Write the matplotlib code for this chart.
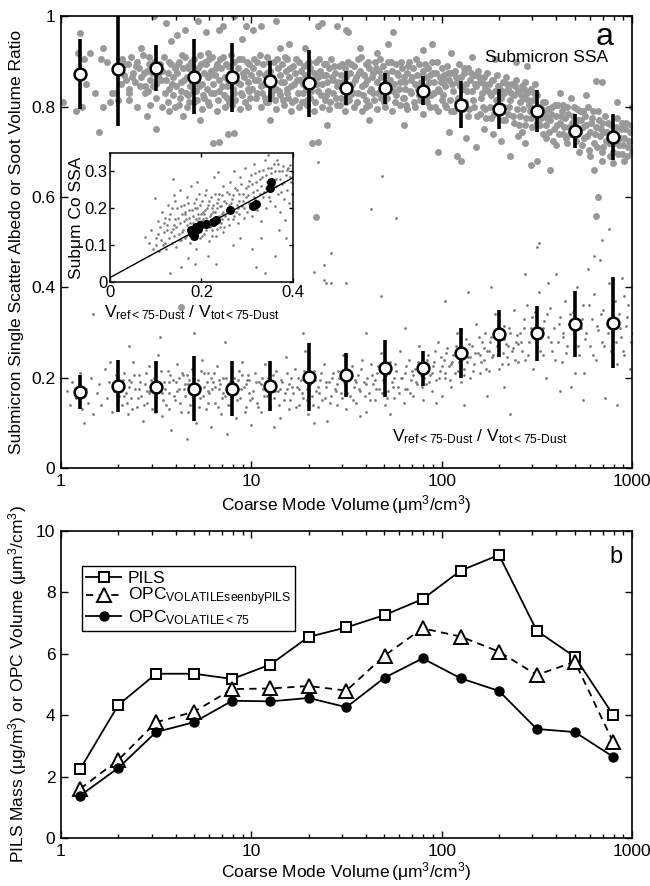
import numpy as np
import matplotlib
matplotlib.use('Agg')
import matplotlib.pyplot as plt
from matplotlib.ticker import FixedLocator, FixedFormatter, LogLocator, NullFormatter

plt.rcParams['font.family'] = ['Liberation Sans', 'DejaVu Sans']
plt.rcParams['mathtext.fontset'] = 'custom'
plt.rcParams['mathtext.rm'] = 'Liberation Sans'
plt.rcParams['mathtext.it'] = 'Liberation Sans:italic'
plt.rcParams['mathtext.bf'] = 'Liberation Sans:bold'
plt.rcParams['font.size'] = 12.5

# bin centres of coarse mode volume (um3/cm3)
bin_vol = [1.26, 2.0, 3.16, 5.0, 7.94, 12.6, 20.0, 31.6, 50.1, 79.4, 126, 200, 316, 501, 794]

# panel a: binned submicron SSA and soot volume ratio (mean, std)
ssa_mean = [0.873, 0.884, 0.886, 0.867, 0.865, 0.856, 0.852, 0.842, 0.841, 0.836, 0.805, 0.795, 0.791, 0.746, 0.734]
ssa_err = [0.078, 0.126, 0.051, 0.083, 0.077, 0.046, 0.074, 0.037, 0.034, 0.033, 0.051, 0.045, 0.046, 0.037, 0.051]
ratio_mean = [0.169, 0.182, 0.180, 0.176, 0.176, 0.182, 0.201, 0.206, 0.221, 0.221, 0.254, 0.297, 0.298, 0.319, 0.322]
ratio_err = [0.038, 0.057, 0.058, 0.072, 0.061, 0.056, 0.075, 0.049, 0.063, 0.039, 0.055, 0.052, 0.061, 0.074, 0.100]

# individual SSA samples: (log10 coarse volume, SSA)
ssa_pts = [
    (0.01, .811), (0.10, .963), (0.09, .92), (0.12, .905), (0.08, .79), (0.11, .80), (0.13, .85), (0.18, .83),
    (0.20, .745), (0.21, .905), (0.22, .93), (0.22, .80), (0.24, .90), (0.27, .83), (0.29, .83), (0.30, .815),
    (0.15, .92), (0.26, .81),
    (0.31, .885), (0.32, .905), (0.33, .87), (0.34, .86), (0.35, .895), (0.36, .84), (0.37, .91), (0.38, .875),
    (0.39, .855), (0.40, .90), (0.41, .885), (0.42, .865), (0.43, .915), (0.44, .845), (0.45, .88), (0.46, .895),
    (0.47, .86), (0.48, .875), (0.49, .90), (0.50, .85), (0.51, .87), (0.52, .895), (0.53, .88), (0.54, .91),
    (0.55, .86), (0.56, .875), (0.57, .84), (0.58, .895), (0.59, .865), (0.60, .885),
    (0.315, .85), (0.335, .895), (0.355, .83), (0.375, .865), (0.395, .89), (0.415, .845), (0.435, .875),
    (0.455, .835), (0.465, .91), (0.485, .845), (0.505, .885), (0.525, .86), (0.545, .83), (0.565, .90),
    (0.585, .85),
    (0.36, .815), (0.40, .80), (0.44, .83), (0.47, .805), (0.50, .82), (0.53, .80), (0.56, .81), (0.59, .825),
    (0.45, .78), (0.57, .79), (0.49, 1.0), (0.55, .985), (0.61, .96), (0.50, .75), (0.60, .80), (0.58, .945),
    (0.42, .93),
    (0.61, .875), (0.62, .90), (0.63, .855), (0.64, .885), (0.65, .91), (0.66, .865), (0.67, .89), (0.68, .845),
    (0.69, .875), (0.70, .905), (0.71, .86), (0.72, .885), (0.73, .915), (0.74, .85), (0.75, .875), (0.76, .895),
    (0.77, .865), (0.78, .905), (0.79, .88), (0.80, .85), (0.81, .87), (0.82, .895), (0.83, .86), (0.84, .885),
    (0.85, .91), (0.86, .865), (0.87, .845), (0.88, .89), (0.89, .875), (0.90, .855), (0.91, .90), (0.92, .87),
    (0.93, .885), (0.94, .85), (0.95, .905), (0.96, .865), (0.97, .88), (0.98, .84), (0.99, .895), (1.00, .87),
    (0.605, .845), (0.615, .895), (0.625, .82), (0.635, .915), (0.645, .86), (0.655, .83), (0.665, .885),
    (0.675, .81), (0.685, .90), (0.695, .835), (0.705, .87), (0.715, .815), (0.725, .845), (0.735, .895),
    (0.745, .825), (0.755, .90), (0.765, .84), (0.775, .81), (0.785, .87), (0.795, .91), (0.805, .83),
    (0.815, .885), (0.825, .815), (0.835, .905), (0.845, .845), (0.855, .825), (0.865, .895), (0.875, .86),
    (0.885, .81), (0.895, .915), (0.905, .84), (0.915, .815), (0.925, .855), (0.935, .905), (0.945, .83),
    (0.955, .875), (0.965, .81), (0.975, .90), (0.985, .855), (0.995, .82),
    (0.63, .835), (0.67, .825), (0.71, .835), (0.75, .82), (0.79, .83), (0.83, .835), (0.87, .82), (0.91, .83),
    (0.95, .825), (0.99, .835), (0.62, .805), (0.66, .80), (0.70, .81), (0.74, .795), (0.78, .805), (0.82, .79),
    (0.86, .80), (0.90, .805), (0.94, .795), (0.98, .80),
    (0.65, .97), (0.72, .99), (0.76, .965), (0.83, .97), (0.85, .98), (0.91, 1.0), (0.95, .95), (0.97, .98),
    (0.77, .92), (0.80, .72), (0.83, .723), (0.88, .74), (0.91, .742), (0.64, .78), (0.73, .77), (0.63, .357),
    (1.01, .885), (1.02, .86), (1.03, .90), (1.04, .875), (1.05, .845), (1.06, .895), (1.07, .87), (1.08, .91),
    (1.09, .855), (1.10, .88), (1.11, .865), (1.12, .90), (1.13, .84), (1.14, .885), (1.15, .87), (1.16, .895),
    (1.17, .855), (1.18, .88), (1.19, .905), (1.20, .865), (1.21, .845), (1.22, .89), (1.23, .875), (1.24, .86),
    (1.25, .90), (1.26, .88), (1.27, .85), (1.28, .87), (1.29, .895), (1.30, .86), (1.31, .885), (1.32, .845),
    (1.33, .875), (1.34, .90), (1.35, .865), (1.36, .88), (1.37, .85), (1.38, .895), (1.39, .87), (1.40, .855),
    (1.41, .885), (1.42, .905), (1.43, .86), (1.44, .875), (1.45, .845), (1.46, .89), (1.47, .87), (1.48, .855),
    (1.49, .885), (1.50, .865),
    (1.005, .84), (1.015, .905), (1.025, .82), (1.035, .86), (1.045, .915), (1.055, .83), (1.065, .85),
    (1.075, .81), (1.085, .875), (1.095, .90), (1.105, .825), (1.115, .845), (1.125, .815), (1.135, .905),
    (1.145, .835), (1.155, .855), (1.165, .815), (1.175, .91), (1.185, .84), (1.195, .82), (1.205, .885),
    (1.215, .81), (1.225, .85), (1.235, .905), (1.245, .83), (1.255, .86), (1.265, .81), (1.275, .89),
    (1.285, .84), (1.295, .815), (1.305, .90), (1.315, .835), (1.325, .86), (1.335, .81), (1.345, .85),
    (1.355, .905), (1.365, .825), (1.375, .87), (1.385, .815), (1.395, .895), (1.405, .835), (1.415, .81),
    (1.425, .865), (1.435, .89), (1.445, .82), (1.455, .855), (1.465, .805), (1.475, .895), (1.485, .835),
    (1.495, .81),
    (1.03, .83), (1.07, .82), (1.11, .835), (1.15, .825), (1.19, .83), (1.23, .815), (1.27, .83), (1.31, .82),
    (1.35, .835), (1.39, .825), (1.43, .83), (1.47, .82), (1.05, .80), (1.09, .81), (1.13, .795), (1.17, .805),
    (1.21, .79), (1.25, .80), (1.29, .805), (1.33, .79), (1.37, .80), (1.41, .795), (1.45, .805), (1.49, .79),
    (1.05, .98), (1.01, .97), (1.13, .99), (1.15, .93), (1.32, .72), (1.35, .723), (1.34, .556), (1.37, .985),
    (1.35, .98), (1.45, .98), (1.50, .97), (1.20, .94), (1.28, .93), (1.10, .77), (1.40, .76),
    (1.51, .90), (1.52, .875), (1.53, .85), (1.54, .89), (1.55, .865), (1.56, .905), (1.57, .88), (1.58, .845),
    (1.59, .87), (1.60, .895), (1.61, .86), (1.62, .885), (1.63, .84), (1.64, .875), (1.65, .90), (1.66, .855),
    (1.67, .88), (1.68, .865), (1.69, .89), (1.70, .845), (1.71, .875), (1.72, .90), (1.73, .86), (1.74, .88),
    (1.75, .85), (1.76, .895), (1.77, .87), (1.78, .855), (1.79, .885), (1.80, .865), (1.81, .84), (1.82, .875),
    (1.83, .90), (1.84, .86), (1.85, .885), (1.86, .85), (1.87, .87), (1.88, .895), (1.89, .855), (1.90, .88),
    (1.91, .865), (1.92, .845), (1.93, .885), (1.94, .87), (1.95, .90), (1.96, .855), (1.97, .875), (1.98, .84),
    (1.99, .865), (2.00, .885),
    (1.505, .84), (1.515, .815), (1.525, .895), (1.535, .83), (1.545, .86), (1.555, .81), (1.565, .875),
    (1.575, .91), (1.585, .825), (1.595, .85), (1.605, .80), (1.615, .90), (1.625, .835), (1.635, .865),
    (1.645, .815), (1.655, .885), (1.665, .83), (1.675, .905), (1.685, .845), (1.695, .81), (1.705, .87),
    (1.715, .82), (1.725, .855), (1.735, .90), (1.745, .835), (1.755, .81), (1.765, .875), (1.775, .84),
    (1.785, .90), (1.795, .82), (1.805, .855), (1.815, .805), (1.825, .89), (1.835, .835), (1.845, .865),
    (1.855, .81), (1.865, .905), (1.875, .84), (1.885, .815), (1.895, .87), (1.905, .83), (1.915, .895),
    (1.925, .81), (1.935, .855), (1.945, .825), (1.955, .875), (1.965, .80), (1.975, .90), (1.985, .835),
    (1.995, .855),
    (1.52, .825), (1.56, .83), (1.60, .815), (1.64, .83), (1.68, .82), (1.72, .835), (1.76, .825), (1.80, .82),
    (1.84, .83), (1.88, .825), (1.92, .82), (1.96, .83), (2.00, .815), (1.54, .80), (1.58, .79), (1.62, .805),
    (1.66, .795), (1.70, .80), (1.74, .79), (1.78, .805), (1.82, .795), (1.86, .80), (1.90, .785), (1.94, .80),
    (1.98, .79), (1.51, .966), (1.66, .92), (1.72, .94), (1.745, .966), (1.95, .94), (1.62, .77), (1.80, .76),
    (1.90, .925), (1.57, .93),
    (2.01, .87), (2.02, .845), (2.03, .89), (2.04, .86), (2.05, .875), (2.06, .835), (2.07, .88), (2.08, .855),
    (2.09, .895), (2.10, .865), (2.11, .84), (2.12, .875), (2.13, .85), (2.14, .885), (2.15, .86), (2.16, .835),
    (2.17, .87), (2.18, .845), (2.19, .88), (2.20, .855), (2.21, .83), (2.22, .865), (2.23, .84), (2.24, .875),
    (2.25, .85), (2.26, .825), (2.27, .86), (2.28, .835), (2.29, .87), (2.30, .845), (2.31, .82), (2.32, .855),
    (2.33, .83), (2.34, .865), (2.35, .84), (2.36, .815), (2.37, .85), (2.38, .825), (2.39, .86), (2.40, .835),
    (2.41, .81), (2.42, .845), (2.43, .82), (2.44, .855), (2.45, .83), (2.46, .805), (2.47, .84), (2.48, .815),
    (2.49, .85), (2.50, .825),
    (2.005, .825), (2.015, .86), (2.025, .80), (2.035, .875), (2.045, .815), (2.055, .85), (2.065, .79),
    (2.075, .865), (2.085, .82), (2.095, .845), (2.105, .805), (2.115, .885), (2.125, .81), (2.135, .835),
    (2.145, .795), (2.155, .875), (2.165, .815), (2.175, .85), (2.185, .78), (2.195, .865), (2.205, .82),
    (2.215, .80), (2.225, .85), (2.235, .775), (2.245, .835), (2.255, .80), (2.265, .86), (2.275, .785),
    (2.285, .815), (2.295, .845), (2.305, .79), (2.315, .835), (2.325, .80), (2.335, .77), (2.345, .85),
    (2.355, .80), (2.365, .83), (2.375, .78), (2.385, .845), (2.395, .795), (2.405, .76), (2.415, .825),
    (2.425, .795), (2.435, .84), (2.445, .775), (2.455, .815), (2.465, .79), (2.475, .755), (2.485, .83),
    (2.495, .79),
    (2.02, .805), (2.05, .79), (2.08, .81), (2.11, .795), (2.14, .78), (2.17, .80), (2.20, .785), (2.23, .795),
    (2.26, .775), (2.29, .79), (2.32, .77), (2.35, .785), (2.38, .765), (2.41, .78), (2.44, .76), (2.47, .775),
    (2.50, .765), (1.98, .70), (2.04, .745), (2.08, .69), (2.10, .68), (2.13, .73), (2.18, .71), (2.22, .75),
    (2.27, .74), (2.31, .725), (2.36, .69), (2.40, .735), (2.44, .72), (2.47, .67), (2.50, .68), (2.42, .745),
    (2.05, .92), (2.16, .91), (2.28, .905), (2.39, .90), (2.45, .89),
    (2.51, .80), (2.52, .775), (2.53, .81), (2.54, .785), (2.55, .76), (2.56, .795), (2.57, .77), (2.58, .80),
    (2.59, .75), (2.60, .78), (2.61, .805), (2.62, .765), (2.63, .79), (2.64, .74), (2.65, .775), (2.66, .80),
    (2.67, .755), (2.68, .82), (2.69, .78), (2.70, .765), (2.71, .795), (2.72, .745), (2.73, .77), (2.74, .79),
    (2.75, .73), (2.76, .76), (2.77, .80), (2.78, .745), (2.79, .775), (2.80, .72), (2.81, .755), (2.82, .79),
    (2.83, .735), (2.84, .765), (2.85, .71), (2.86, .78), (2.87, .745), (2.88, .72), (2.89, .76), (2.90, .70),
    (2.91, .735), (2.92, .775), (2.93, .715), (2.94, .75), (2.95, .695), (2.96, .73), (2.97, .765), (2.98, .71),
    (2.99, .745), (3.00, .70),
    (2.505, .785), (2.515, .76), (2.525, .795), (2.535, .74), (2.545, .81), (2.555, .775), (2.565, .745),
    (2.575, .785), (2.585, .725), (2.595, .805), (2.605, .76), (2.615, .74), (2.625, .78), (2.635, .805),
    (2.645, .755), (2.655, .73), (2.665, .785), (2.675, .74), (2.685, .765), (2.695, .80), (2.705, .725),
    (2.715, .77), (2.725, .79), (2.735, .715), (2.745, .755), (2.755, .78), (2.765, .735), (2.775, .705),
    (2.785, .765), (2.795, .79), (2.805, .74), (2.815, .71), (2.825, .77), (2.835, .75), (2.845, .70),
    (2.855, .745), (2.865, .725), (2.875, .765), (2.885, .69), (2.895, .74), (2.905, .72), (2.915, .755),
    (2.925, .695), (2.935, .73), (2.945, .765), (2.955, .715), (2.965, .75), (2.975, .69), (2.985, .725),
    (2.995, .76),
    (2.55, .73), (2.60, .715), (2.66, .72), (2.72, .70), (2.78, .69), (2.84, .68), (2.90, .675), (2.96, .68),
    (2.57, .66), (2.80, .66), (2.82, .60), (2.81, .558), (2.84, .855), (2.81, .856), (2.62, .83), (2.76, .825),
    (2.92, .81), (3.00, .80),
]

# individual soot volume ratio samples: (log10 coarse volume, ratio)
ratio_pts = [
    (0.03, .17), (0.05, .14), (0.06, .19), (0.08, .155), (0.10, .21), (0.11, .13), (0.13, .175), (0.14, .145),
    (0.16, .20), (0.17, .12), (0.19, .165), (0.20, .185), (0.21, .14), (0.23, .22), (0.24, .155), (0.25, .19),
    (0.27, .125), (0.28, .17), (0.29, .205), (0.30, .15), (0.17, .34), (0.12, .10), (0.26, .235),
    (0.31, .18), (0.32, .14), (0.33, .21), (0.34, .165), (0.35, .12), (0.36, .195), (0.37, .155), (0.38, .235),
    (0.39, .175), (0.40, .135), (0.41, .205), (0.42, .16), (0.43, .105), (0.44, .185), (0.45, .145), (0.46, .225),
    (0.47, .17), (0.48, .13), (0.49, .20), (0.50, .155), (0.51, .25), (0.52, .18), (0.53, .115), (0.54, .19),
    (0.55, .14), (0.56, .215), (0.57, .165), (0.58, .085), (0.59, .195), (0.60, .15), (0.61, .23), (0.62, .175),
    (0.63, .125), (0.64, .205), (0.65, .16), (0.66, .065), (0.67, .185), (0.68, .14), (0.69, .22), (0.70, .17),
    (0.71, .10), (0.72, .195), (0.73, .155), (0.74, .24), (0.75, .18), (0.76, .13), (0.77, .21), (0.78, .165),
    (0.79, .09), (0.80, .19), (0.81, .145), (0.82, .225), (0.83, .175), (0.84, .12), (0.85, .20), (0.86, .16),
    (0.87, .075), (0.88, .185), (0.89, .14), (0.90, .215), (0.91, .17), (0.92, .11), (0.93, .195), (0.94, .155),
    (0.95, .235), (0.96, .18), (0.97, .135), (0.98, .205), (0.99, .165), (1.00, .095),
    (0.305, .16), (0.325, .195), (0.345, .145), (0.355, .18), (0.375, .13), (0.385, .205), (0.405, .155),
    (0.415, .19), (0.435, .14), (0.445, .21), (0.465, .165), (0.475, .195), (0.495, .125), (0.505, .185),
    (0.525, .215), (0.535, .15), (0.545, .175), (0.565, .13), (0.575, .205), (0.595, .16), (0.605, .19),
    (0.625, .145), (0.635, .21), (0.645, .175), (0.665, .125), (0.675, .195), (0.695, .15), (0.705, .185),
    (0.725, .135), (0.735, .215), (0.745, .16), (0.765, .19), (0.775, .145), (0.795, .175), (0.805, .21),
    (0.825, .135), (0.835, .185), (0.845, .155), (0.865, .20), (0.875, .14), (0.895, .17), (0.905, .19),
    (0.925, .15), (0.935, .215), (0.945, .175), (0.965, .125), (0.975, .195), (0.995, .15),
    (0.33, .16), (0.37, .19), (0.41, .175), (0.45, .17), (0.49, .185), (0.53, .165), (0.57, .19), (0.61, .17),
    (0.65, .185), (0.69, .165), (0.73, .18), (0.77, .17), (0.81, .18), (0.85, .165), (0.89, .19), (0.93, .175),
    (0.97, .185), (0.36, .27), (0.52, .29), (0.70, .30), (0.86, .28), (0.62, .20), (0.66, .205), (0.75, .21),
    (0.79, .20), (0.83, .195), (0.91, .20), (0.95, .205), (0.99, .195),
    (1.01, .17), (1.02, .21), (1.03, .145), (1.04, .19), (1.05, .125), (1.06, .175), (1.07, .23), (1.08, .16),
    (1.09, .20), (1.10, .135), (1.11, .18), (1.12, .155), (1.13, .215), (1.14, .17), (1.15, .11), (1.16, .19),
    (1.17, .15), (1.18, .245), (1.19, .175), (1.20, .13), (1.21, .20), (1.22, .165), (1.23, .22), (1.24, .18),
    (1.25, .14), (1.26, .195), (1.27, .155), (1.28, .26), (1.29, .175), (1.30, .12), (1.31, .185), (1.32, .16),
    (1.33, .215), (1.34, .17), (1.35, .135), (1.36, .195), (1.37, .15), (1.38, .23), (1.39, .18), (1.40, .105),
    (1.41, .19), (1.42, .16), (1.43, .21), (1.44, .175), (1.45, .14), (1.46, .20), (1.47, .165), (1.48, .25),
    (1.49, .185), (1.50, .13), (1.51, .195), (1.52, .16), (1.53, .225), (1.54, .18), (1.55, .145), (1.56, .205),
    (1.57, .17), (1.58, .24), (1.59, .19), (1.60, .125), (1.61, .20), (1.62, .165), (1.63, .23), (1.64, .185),
    (1.65, .15), (1.66, .21), (1.67, .175), (1.68, .255), (1.69, .195), (1.70, .14), (1.71, .205), (1.72, .17),
    (1.73, .235), (1.74, .19), (1.75, .155), (1.76, .215), (1.77, .18), (1.78, .26), (1.79, .20), (1.80, .145),
    (1.81, .21), (1.82, .175), (1.83, .24), (1.84, .195), (1.85, .16), (1.86, .22), (1.87, .185), (1.88, .27),
    (1.89, .205), (1.90, .15),
    (1.005, .155), (1.025, .19), (1.035, .135), (1.055, .20), (1.065, .16), (1.085, .185), (1.095, .145),
    (1.115, .205), (1.125, .17), (1.145, .14), (1.155, .195), (1.175, .165), (1.185, .21), (1.205, .15),
    (1.215, .18), (1.235, .135), (1.245, .20), (1.265, .165), (1.275, .215), (1.295, .15), (1.305, .185),
    (1.325, .14), (1.335, .195), (1.355, .165), (1.365, .21), (1.385, .155), (1.395, .19), (1.415, .145),
    (1.425, .20), (1.445, .17), (1.455, .215), (1.475, .155), (1.485, .19), (1.505, .165), (1.515, .21),
    (1.535, .15), (1.545, .195), (1.565, .175), (1.575, .22), (1.595, .16), (1.605, .185), (1.625, .15),
    (1.635, .205), (1.655, .175), (1.665, .225), (1.685, .165), (1.695, .19), (1.715, .155), (1.725, .21),
    (1.745, .18), (1.755, .23), (1.775, .165), (1.785, .20), (1.805, .175), (1.815, .225), (1.835, .165),
    (1.845, .215), (1.865, .19), (1.875, .235), (1.895, .18),
    (1.05, .185), (1.10, .19), (1.15, .175), (1.20, .185), (1.25, .175), (1.30, .19), (1.35, .18), (1.45, .185),
    (1.55, .19), (1.65, .195), (1.75, .20), (1.85, .205), (1.12, .09), (1.33, .10), (1.57, .115), (1.73, .12),
    (1.42, .41), (1.38, .416), (1.50, .41), (1.68, .38), (1.33, .435), (1.39, .41), (1.42, .476), (1.63, .573),
    (1.685, .647), (1.76, .554), (1.35, .678), (1.38, .45), (1.27, .30), (1.60, .30), (1.81, .31),
    (1.91, .22), (1.92, .185), (1.93, .25), (1.94, .205), (1.95, .17), (1.96, .235), (1.97, .195), (1.98, .28),
    (1.99, .215), (2.00, .16), (2.01, .24), (2.02, .20), (2.03, .265), (2.04, .225), (2.05, .18), (2.06, .25),
    (2.07, .21), (2.08, .30), (2.09, .235), (2.10, .19), (2.11, .26), (2.12, .22), (2.13, .285), (2.14, .245),
    (2.15, .20), (2.16, .27), (2.17, .23), (2.18, .32), (2.19, .255), (2.20, .21), (2.21, .28), (2.22, .24),
    (2.23, .30), (2.24, .26), (2.25, .215), (2.26, .29), (2.27, .25), (2.28, .34), (2.29, .27), (2.30, .22),
    (2.31, .295), (2.32, .255), (2.33, .315), (2.34, .275), (2.35, .23), (2.36, .30), (2.37, .26), (2.38, .35),
    (2.39, .28), (2.40, .235),
    (1.905, .20), (1.925, .24), (1.935, .19), (1.955, .225), (1.965, .26), (1.985, .20), (1.995, .245),
    (2.015, .21), (2.025, .255), (2.045, .195), (2.055, .235), (2.075, .27), (2.085, .215), (2.105, .25),
    (2.115, .205), (2.135, .235), (2.145, .275), (2.165, .215), (2.175, .255), (2.195, .29), (2.205, .235),
    (2.225, .265), (2.235, .22), (2.255, .28), (2.265, .245), (2.285, .305), (2.295, .25), (2.315, .23),
    (2.325, .285), (2.345, .245), (2.355, .31), (2.375, .265), (2.385, .24), (2.395, .295),
    (1.95, .21), (2.00, .225), (2.05, .23), (2.10, .24), (2.15, .245), (2.20, .25), (2.25, .26), (2.30, .265),
    (2.35, .27), (2.40, .275), (2.02, .37), (2.14, .39), (2.26, .40), (2.36, .12), (2.12, .14), (2.24, .16),
    (1.97, .145), (2.33, .18),
    (2.41, .30), (2.42, .26), (2.43, .33), (2.44, .24), (2.45, .36), (2.46, .28), (2.47, .31), (2.48, .22),
    (2.49, .345), (2.50, .27), (2.51, .39), (2.52, .30), (2.53, .25), (2.54, .325), (2.55, .20), (2.56, .29),
    (2.57, .355), (2.58, .26), (2.59, .31), (2.60, .43), (2.61, .28), (2.62, .335), (2.63, .235), (2.64, .30),
    (2.65, .37), (2.66, .27), (2.67, .32), (2.68, .18), (2.69, .345), (2.70, .29), (2.71, .40), (2.72, .25),
    (2.73, .31), (2.74, .36), (2.75, .21), (2.76, .30), (2.77, .44), (2.78, .27), (2.79, .33), (2.80, .385),
    (2.81, .24), (2.82, .305), (2.83, .46), (2.84, .28), (2.85, .35), (2.86, .155), (2.87, .32), (2.88, .41),
    (2.89, .26), (2.90, .30), (2.91, .37), (2.92, .23), (2.93, .34), (2.94, .29), (2.95, .42), (2.96, .25),
    (2.97, .315), (2.98, .36), (2.99, .22), (3.00, .30),
    (2.415, .28), (2.435, .31), (2.455, .25), (2.475, .335), (2.495, .29), (2.515, .26), (2.535, .31),
    (2.555, .34), (2.575, .28), (2.595, .24), (2.615, .32), (2.635, .29), (2.655, .255), (2.675, .34),
    (2.695, .30), (2.715, .27), (2.735, .33), (2.755, .285), (2.775, .36), (2.795, .25), (2.815, .315),
    (2.835, .34), (2.855, .27), (2.875, .30), (2.895, .345), (2.915, .28), (2.935, .31), (2.955, .26),
    (2.975, .335), (2.995, .28),
    (2.50, .49), (2.51, .498), (2.84, .506), (2.88, .529), (2.44, .43), (2.62, .17), (2.74, .15), (2.92, .14),
    (2.56, .41), (2.80, .47), (2.70, .21), (2.96, .38),
]

# inset: soot volume ratio vs submicron coarse SSA, (ratio, SSA)
inset_pts = [
    (0.077, .123), (0.085, .105), (0.09, .14), (0.095, .09), (0.098, .227), (0.10, .12), (0.105, .165),
    (0.108, .085), (0.11, .15), (0.113, .19), (0.115, .10), (0.118, .135), (0.12, .175),
    (0.10, .10), (0.106, .13), (0.112, .115), (0.117, .16), (0.121, .105), (0.124, .14), (0.128, .17),
    (0.133, .135), (0.136, .20), (0.139, .125), (0.141, .155), (0.143, .22),
    (0.122, .09), (0.125, .155), (0.127, .21), (0.13, .12), (0.132, .185), (0.135, .105), (0.137, .28),
    (0.138, .145), (0.14, .235), (0.142, .17), (0.145, .095), (0.147, .20), (0.15, .13), (0.152, .16),
    (0.154, .25), (0.156, .115), (0.158, .185), (0.16, .14), (0.131, .024), (0.156, .041),
    (0.145, .15), (0.148, .175), (0.151, .115), (0.155, .205), (0.158, .135), (0.161, .165), (0.163, .19),
    (0.167, .125), (0.169, .155), (0.171, .215), (0.173, .175), (0.177, .14), (0.179, .195), (0.181, .16),
    (0.183, .12), (0.185, .20), (0.187, .17), (0.189, .225), (0.191, .135), (0.193, .185), (0.195, .155),
    (0.197, .21), (0.199, .165),
    (0.162, .21), (0.164, .12), (0.166, .17), (0.168, .23), (0.17, .145), (0.172, .195), (0.174, .105),
    (0.176, .16), (0.178, .26), (0.18, .13), (0.182, .18), (0.184, .215), (0.186, .15), (0.188, .09),
    (0.19, .20), (0.192, .165), (0.194, .24), (0.196, .12), (0.198, .185), (0.20, .145), (0.17, .065),
    (0.185, .05), (0.165, .185), (0.175, .135), (0.195, .175), (0.19, .27),
    (0.201, .125), (0.203, .19), (0.205, .155), (0.207, .235), (0.209, .175), (0.211, .14), (0.213, .20),
    (0.215, .165), (0.217, .22), (0.219, .15), (0.221, .185), (0.223, .125), (0.225, .21), (0.227, .17),
    (0.229, .24), (0.231, .16), (0.233, .20), (0.235, .145), (0.237, .225), (0.239, .18), (0.241, .205),
    (0.243, .16), (0.245, .235), (0.247, .19), (0.249, .15),
    (0.202, .22), (0.204, .17), (0.206, .13), (0.208, .195), (0.21, .25), (0.212, .155), (0.214, .21),
    (0.216, .11), (0.218, .18), (0.22, .23), (0.222, .14), (0.224, .20), (0.226, .165), (0.228, .285),
    (0.23, .19), (0.232, .125), (0.234, .215), (0.236, .175), (0.237, .299), (0.238, .24), (0.24, .15),
    (0.242, .205), (0.244, .185), (0.246, .26), (0.248, .135), (0.25, .22), (0.232, .049), (0.215, .07),
    (0.205, .185), (0.225, .19), (0.245, .17),
    (0.252, .18), (0.255, .245), (0.258, .20), (0.26, .155), (0.262, .27), (0.265, .215), (0.268, .17),
    (0.27, .235), (0.272, .30), (0.275, .19), (0.278, .25), (0.28, .16), (0.282, .22), (0.285, .285),
    (0.288, .205), (0.29, .24), (0.292, .175), (0.295, .31), (0.298, .23), (0.30, .19), (0.27, .10),
    (0.285, .12), (0.26, .21), (0.28, .20),
    (0.253, .215), (0.257, .17), (0.261, .24), (0.263, .195), (0.267, .225), (0.271, .18), (0.273, .255),
    (0.277, .21), (0.281, .24), (0.283, .185), (0.287, .265), (0.291, .22), (0.293, .20), (0.297, .255),
    (0.302, .26), (0.305, .215), (0.308, .29), (0.31, .18), (0.312, .245), (0.315, .32), (0.318, .225),
    (0.32, .27), (0.322, .195), (0.325, .30), (0.328, .24), (0.33, .165), (0.332, .285), (0.335, .23),
    (0.338, .33), (0.34, .255), (0.342, .20), (0.345, .31), (0.346, .345), (0.348, .27), (0.35, .22),
    (0.339, .024), (0.32, .04), (0.31, .09), (0.33, .12),
    (0.301, .235), (0.304, .275), (0.307, .20), (0.311, .265), (0.314, .23), (0.317, .295), (0.321, .25),
    (0.324, .215), (0.327, .28), (0.331, .26), (0.334, .305), (0.337, .245), (0.341, .29), (0.344, .27),
    (0.347, .23),
    (0.352, .295), (0.355, .25), (0.358, .32), (0.36, .205), (0.362, .28), (0.365, .33), (0.368, .24),
    (0.37, .30), (0.372, .19), (0.375, .265), (0.378, .315), (0.38, .225), (0.383, .168), (0.385, .29),
    (0.388, .25), (0.39, .31), (0.392, .215), (0.394, .317), (0.396, .27), (0.398, .24), (0.37, .14),
    (0.385, .12), (0.36, .07),
    (0.353, .31), (0.357, .275), (0.361, .30), (0.364, .26), (0.367, .32), (0.371, .28), (0.374, .245),
    (0.377, .30), (0.381, .27), (0.387, .305), (0.393, .285), (0.397, .30),
]
inset_bin_ratio = [0.178, 0.180, 0.184, 0.186, 0.189, 0.192, 0.197, 0.210, 0.226, 0.231, 0.262, 0.312, 0.320, 0.350, 0.353]
inset_bin_ssa = [0.140, 0.133, 0.126, 0.138, 0.150, 0.145, 0.155, 0.157, 0.164, 0.168, 0.195, 0.207, 0.211, 0.254, 0.270]
fit_x = [0.0, 0.4]
fit_y = [0.012, 0.283]

# panel b: PILS mass and OPC volatile volume per bin
pils = [2.24, 4.33, 5.35, 5.35, 5.18, 5.65, 6.55, 6.86, 7.26, 7.78, 8.71, 9.22, 6.75, 5.90, 4.02]
opc_seen = [1.60, 2.54, 3.77, 4.11, 4.85, 4.87, 4.95, 4.80, 5.94, 6.83, 6.56, 6.07, 5.31, 5.74, 3.14]
opc_vol75 = [1.38, 2.28, 3.45, 3.77, 4.47, 4.45, 4.56, 4.26, 5.22, 5.85, 5.20, 4.79, 3.55, 3.45, 2.65]

vol_label = r'Coarse Mode Volume$\,$(μm$^3$/cm$^3$)'
ratio_label = r'V$_{\mathrm{ref<75‐Dust}}$ / V$_{\mathrm{tot<75‐Dust}}$'


def matlab_axes(ax, lw=1.2):
    for s in ax.spines.values():
        s.set_linewidth(lw)
    ax.tick_params(which='both', direction='in', top=True, right=True, width=1.0)
    ax.tick_params(which='major', length=5, pad=4)
    ax.tick_params(which='minor', length=3)


def log_x(ax):
    ax.set_xscale('log')
    ax.set_xlim(1, 1000)
    ax.xaxis.set_major_locator(FixedLocator([1, 10, 100, 1000]))
    ax.xaxis.set_major_formatter(FixedFormatter(['1', '10', '100', '1000']))
    ax.xaxis.set_minor_locator(LogLocator(base=10, subs=np.arange(2, 10)))
    ax.xaxis.set_minor_formatter(NullFormatter())


fig = plt.figure(figsize=(6.5, 8.86), dpi=100)

# ---- panel a ----
ax = fig.add_axes([0.0938, 0.4718, 0.8785, 0.5096])
sp = np.array(ssa_pts)
rp = np.array(ratio_pts)
ax.scatter(10 ** sp[:, 0], sp[:, 1], s=25, color='#999999', lw=0, zorder=1)
ax.scatter(10 ** rp[:, 0], rp[:, 1], s=4, color='#7a7a7a', lw=0, zorder=1)
for m, e in ((ssa_mean, ssa_err), (ratio_mean, ratio_err)):
    ax.errorbar(bin_vol, m, yerr=e, fmt='o', color='black', mfc='white', mec='black',
                ms=8.5, mew=1.8, elinewidth=2.6, capsize=0, zorder=3)
log_x(ax)
ax.set_ylim(0, 1)
ax.yaxis.set_major_locator(FixedLocator([0, 0.2, 0.4, 0.6, 0.8, 1.0]))
ax.yaxis.set_major_formatter(FixedFormatter(['0', '0.2', '0.4', '0.6', '0.8', '1']))
matlab_axes(ax)
ax.set_xlabel(vol_label, labelpad=3)
ax.set_ylabel('Submicron Single Scatter Albedo or Soot Volume Ratio', labelpad=5)
ax.text(0.967, 0.955, 'a', transform=ax.transAxes, ha='right', va='center', fontsize=23)
ax.text(0.958, 0.91, 'Submicron SSA', transform=ax.transAxes, ha='right', va='center')
ax.text(0.58, 0.07, ratio_label, transform=ax.transAxes, ha='left', va='center')

# inset
axi = fig.add_axes([0.1692, 0.6817, 0.2815, 0.1456])
ip = np.array(inset_pts)
axi.scatter(ip[:, 0], ip[:, 1], s=3.5, color='#7a7a7a', lw=0, zorder=1)
axi.plot(fit_x, fit_y, color='black', lw=1.0, zorder=2)
axi.scatter(inset_bin_ratio, inset_bin_ssa, s=42, color='black', lw=0, zorder=3)
axi.set_xlim(0, 0.4)
axi.set_ylim(0, 0.35)
axi.xaxis.set_major_locator(FixedLocator([0, 0.2, 0.4]))
axi.xaxis.set_major_formatter(FixedFormatter(['0', '0.2', '0.4']))
axi.yaxis.set_major_locator(FixedLocator([0, 0.1, 0.2, 0.3]))
axi.yaxis.set_major_formatter(FixedFormatter(['0', '0.1', '0.2', '0.3']))
matlab_axes(axi, lw=1.1)
axi.tick_params(which='major', length=3, pad=2, labelsize=12)
axi.set_ylabel('Subμm Co SSA', labelpad=0, fontsize=12.5)
axi.text(-0.03, -0.24, ratio_label, transform=axi.transAxes, ha='left', va='center')

# ---- panel b ----
bx = fig.add_axes([0.0938, 0.0542, 0.8785, 0.3465])
bx.plot(bin_vol, pils, '-s', color='black', lw=1.3, ms=7.5, mfc='white', mew=1.4, label='PILS')
bx.plot(bin_vol, opc_seen, '--^', color='black', lw=1.3, ms=9.5, mfc='white', mew=1.4, dashes=(4, 3),
        label=r'OPC$_{\mathrm{VOLATILEseenbyPILS}}$')
bx.plot(bin_vol, opc_vol75, '-o', color='black', lw=1.3, ms=6.5, mfc='black',
        label=r'OPC$_{\mathrm{VOLATILE<75}}$')
log_x(bx)
bx.set_ylim(0, 10)
bx.yaxis.set_major_locator(FixedLocator([0, 2, 4, 6, 8, 10]))
matlab_axes(bx)
bx.set_xlabel(vol_label, labelpad=1)
bx.set_ylabel(r'PILS Mass (μg/m$^3$) or OPC Volume (μm$^3$/cm$^3$)', labelpad=5)
bx.text(0.984, 0.916, 'b', transform=bx.transAxes, ha='right', va='center', fontsize=17)
leg = bx.legend(loc='upper left', bbox_to_anchor=(0.037, 0.885), frameon=True, fancybox=False,
                edgecolor='black', framealpha=1, borderpad=0.25, labelspacing=0.0,
                handlelength=2.0, handletextpad=0.4, borderaxespad=0)
leg.get_frame().set_linewidth(1.0)

fig.savefig('out.png', dpi=100)
